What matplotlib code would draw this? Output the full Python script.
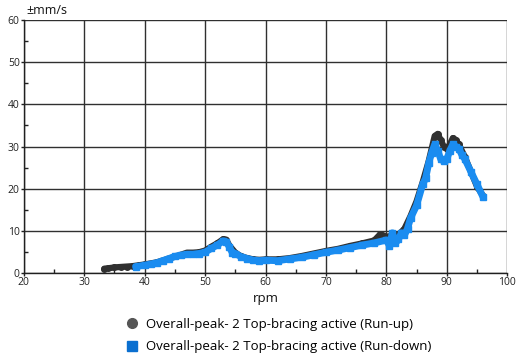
import matplotlib
matplotlib.use("Agg")
import matplotlib.pyplot as plt
from matplotlib.lines import Line2D
from matplotlib.ticker import MultipleLocator

plt.rcParams['font.family'] = ['Open Sans', 'DejaVu Sans']

# Run-up (black/grey circles)
up_rpm = [33.3, 34, 35, 36, 37, 38, 39, 40, 42, 44, 46, 47, 48, 49, 50, 51, 52, 53,
          53.5, 54, 55, 56, 57, 58, 59, 60, 62, 64, 66, 68, 70, 72, 74, 76, 78, 79,
          80, 81, 82, 83, 84, 85, 86, 87, 87.5, 88, 88.5, 89, 89.5, 90, 90.5, 91,
          91.5, 92, 93, 94, 95, 96]
up_val = [1.0, 1.1, 1.3, 1.4, 1.5, 1.6, 1.8, 2.0, 2.5, 3.4, 4.3, 4.8, 4.8, 4.9, 5.3,
          6.2, 7.0, 8.0, 7.9, 6.5, 4.8, 3.9, 3.5, 3.2, 3.1, 3.2, 3.2, 3.5, 4.0, 4.6,
          5.2, 5.7, 6.4, 7.0, 7.7, 9.2, 8.6, 8.8, 9.0, 10.5, 13.5, 17, 21.5, 26.5, 29.5,
          32.5, 33.0, 31.5, 30, 29.5, 30.5, 32.0, 31.5, 30.5, 27.5, 24, 20.5, 18.3]

# Run-down (blue squares)
down_rpm = [38.5, 40, 41, 42, 43, 44, 45, 46, 47, 48, 49, 50, 51, 52, 53, 53.5, 54,
            54.5, 55, 56, 57, 58, 59, 60, 62, 64, 66, 68, 70, 72, 74, 76, 78, 80, 80.5,
            81, 81.5, 82, 82.5, 83, 83.5, 84, 85, 86, 86.5, 87, 87.5, 88, 88.5, 89,
            89.5, 90, 90.5, 91, 91.5, 92, 92.5, 93, 94, 95, 96]
down_val = [1.5, 1.8, 2.1, 2.4, 2.9, 3.4, 3.9, 4.2, 4.4, 4.4, 4.6, 4.9, 5.8, 6.6, 7.6,
            7.4, 6.2, 4.8, 4.6, 3.8, 3.4, 3.0, 2.9, 3.0, 2.9, 3.3, 3.7, 4.3, 4.9, 5.4,
            6.0, 6.6, 7.1, 7.8, 6.5, 9.5, 7.0, 8.0, 9.5, 9.0, 10.5, 13, 16, 21, 22.5,
            26, 28.5, 30.5, 29, 27, 26.5, 27, 29, 30.5, 30, 29.5, 28, 27, 24, 21, 18]

up_label = "Overall-peak- 2 Top-bracing active (Run-up)"
down_label = "Overall-peak- 2 Top-bracing active (Run-down)"

black = "#303030"
blue = "#1a8cf0"

fig = plt.figure(figsize=(5.3, 3.6), dpi=100)
ax = fig.add_axes([0.045, 0.242, 0.912, 0.702])

ax.plot(up_rpm, up_val, color=black, lw=4.5, marker='o', ms=4,
        solid_capstyle='round', solid_joinstyle='round', zorder=3)
ax.plot(down_rpm, down_val, color=blue, lw=5.0, marker='s', ms=4.5,
        solid_capstyle='round', solid_joinstyle='round', zorder=4)

ax.set_xlim(20, 100)
ax.set_ylim(0, 60)
ax.xaxis.set_major_locator(MultipleLocator(10))
ax.yaxis.set_major_locator(MultipleLocator(10))
ax.xaxis.set_minor_locator(MultipleLocator(5))
ax.yaxis.set_minor_locator(MultipleLocator(5))
ax.grid(True, which='major', color='#303030', lw=1.0)
ax.set_axisbelow(True)
for s in ['top', 'right']:
    ax.spines[s].set_visible(False)
for s in ['left', 'bottom']:
    ax.spines[s].set_color('#202020')
    ax.spines[s].set_linewidth(1.0)
ax.tick_params(which='major', length=2, width=1, color='#202020',
               labelsize=7.5, pad=1, labelcolor='#222222')
ax.tick_params(which='minor', direction='in', length=3, width=1, color='#202020')

ax.set_xlabel("rpm", fontsize=9.5, labelpad=3, color='#111111')
fig.text(0.05, 0.99, "±mm/s", fontsize=9, va='top', ha='left', color='#111111')

handles = [
    Line2D([], [], ls='none', marker='o', ms=7, color='#555555'),
    Line2D([], [], ls='none', marker='s', ms=7, color='#0a6fd0'),
]
fig.legend(handles, [up_label, down_label], loc='upper center',
           bbox_to_anchor=(0.525, 0.118), frameon=False, fontsize=9.5,
           handletextpad=0.6, labelspacing=0.75, handlelength=1.0,
           borderaxespad=0, borderpad=0)

fig.savefig("out.png", dpi=100)
